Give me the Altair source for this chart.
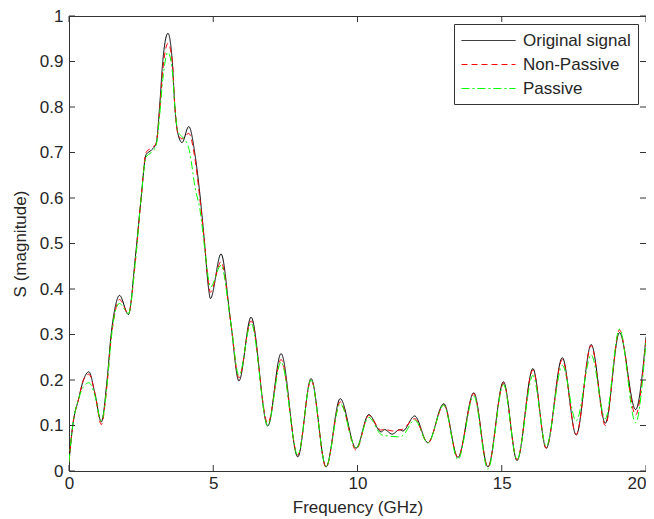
import altair as alt
import pandas as pd

freq = [0, 0.13, 0.34, 0.5, 0.69, 0.9, 1.12, 1.32, 1.46, 1.6, 1.75, 2.06, 2.3, 2.5, 2.67, 2.85,
        3.02, 3.14, 3.25, 3.43, 3.58, 3.67, 3.78, 3.92, 4.15, 4.38, 4.55, 4.7, 4.84, 4.9, 5.27,
        5.6, 5.89, 6.31, 6.89, 7.35, 7.93, 8.39, 8.91, 9.4, 9.95, 10.39, 10.82, 10.94, 11.2,
        11.46, 11.57, 11.98, 12.44, 12.99, 13.48, 14.03, 14.52, 15.06, 15.53, 16.08, 16.54,
        17.1, 17.58, 18.1, 18.59, 19.08, 19.64, 20]

original = [0.02, 0.10, 0.16, 0.20, 0.218, 0.17, 0.108, 0.20, 0.30, 0.36, 0.386, 0.344, 0.47, 0.60, 0.695, 0.705,
            0.72, 0.80, 0.90, 0.962, 0.90, 0.80, 0.74, 0.722, 0.757, 0.69, 0.60, 0.50, 0.40, 0.379, 0.477,
            0.33, 0.198, 0.338, 0.099, 0.258, 0.031, 0.203, 0.009, 0.159, 0.05, 0.124, 0.086, 0.091, 0.081,
            0.091, 0.088, 0.121, 0.062, 0.148, 0.030, 0.172, 0.009, 0.196, 0.023, 0.225, 0.05,
            0.249, 0.079, 0.278, 0.105, 0.304, 0.135, 0.295]

non_passive = [0.02, 0.10, 0.16, 0.20, 0.213, 0.17, 0.102, 0.19, 0.29, 0.35, 0.377, 0.346, 0.46, 0.60, 0.70, 0.71,
               0.72, 0.79, 0.88, 0.94, 0.90, 0.80, 0.74, 0.73, 0.742, 0.68, 0.59, 0.50, 0.41, 0.393, 0.46,
               0.33, 0.205, 0.33, 0.105, 0.245, 0.035, 0.20, 0.008, 0.152, 0.046, 0.122, 0.09, 0.092, 0.088,
               0.09, 0.092, 0.115, 0.062, 0.145, 0.03, 0.17, 0.008, 0.193, 0.025, 0.222, 0.05,
               0.245, 0.08, 0.276, 0.10, 0.31, 0.123, 0.29]

passive = [0.02, 0.10, 0.16, 0.185, 0.194, 0.165, 0.11, 0.19, 0.29, 0.35, 0.368, 0.346, 0.46, 0.60, 0.69, 0.70,
           0.715, 0.78, 0.86, 0.92, 0.88, 0.80, 0.745, 0.735, 0.71, 0.62, 0.57, 0.49, 0.42, 0.404, 0.452,
           0.33, 0.21, 0.325, 0.10, 0.24, 0.035, 0.20, 0.01, 0.148, 0.05, 0.118, 0.08, 0.078, 0.076,
           0.075, 0.078, 0.112, 0.062, 0.145, 0.025, 0.165, 0.004, 0.19, 0.025, 0.21, 0.055,
           0.232, 0.11, 0.255, 0.115, 0.312, 0.106, 0.285]

series_names = ["Original signal", "Non-Passive", "Passive"]
series_colors = ["#000000", "#ff0000", "#00ff00"]
series_dash = [[1, 0], [6, 4], [8, 3, 2, 3]]

x_ticks = [0, 5, 10, 15, 20]
y_ticks = [0, 0.1, 0.2, 0.3, 0.4, 0.5, 0.6, 0.7, 0.8, 0.9, 1]

rows = []
for name, vals in zip(series_names, [original, non_passive, passive]):
    for f, v in zip(freq, vals):
        rows.append({"freq": f, "S": v, "series": name})
df = pd.DataFrame(rows)

W, H = 577, 455
FONT = "Liberation Sans"
FS = 17
TXT = "#262626"

xs = alt.Scale(domain=[0, 20], nice=False, zero=False)
ys = alt.Scale(domain=[0, 1], nice=False, zero=False)

x_label_align = {"condition": {"test": "datum.value >= 20", "value": "right"}, "value": "center"}

lines = alt.Chart(df).mark_line(strokeWidth=1, interpolate="monotone", clip=True).encode(
    x=alt.X("freq:Q", scale=xs,
            axis=alt.Axis(values=x_ticks, ticks=False, domain=False, grid=False, labelFlush=False,
                          labelAlign=x_label_align,
                          labelFont=FONT, labelFontSize=FS, labelColor=TXT, labelPadding=4,
                          title="Frequency (GHz)", titleFont=FONT, titleFontSize=FS,
                          titleFontWeight="normal", titleColor=TXT, titlePadding=8)),
    y=alt.Y("S:Q", scale=ys,
            axis=alt.Axis(values=y_ticks, format="~g", ticks=False, domain=False, grid=False,
                          labelFont=FONT, labelFontSize=FS, labelColor=TXT, labelPadding=6,
                          title="S (magnitude)", titleFont=FONT, titleFontSize=FS,
                          titleFontWeight="normal", titleColor=TXT, titlePadding=10)),
    color=alt.Color("series:N", title=None,
                    scale=alt.Scale(domain=series_names, range=series_colors)),
    strokeDash=alt.StrokeDash("series:N", title=None,
                              scale=alt.Scale(domain=series_names, range=series_dash)),
)

xt = pd.DataFrame({"t": x_ticks})
yt = pd.DataFrame({"t": y_ticks})
tick_style = dict(color="#333333", strokeWidth=1)

xb = alt.Chart(xt).mark_rule(**tick_style).encode(
    x=alt.X("t:Q", scale=xs), y=alt.value(H), y2=alt.value(H - 6))
xtop = alt.Chart(xt).mark_rule(**tick_style).encode(
    x=alt.X("t:Q", scale=xs), y=alt.value(0), y2=alt.value(6))
yl = alt.Chart(yt).mark_rule(**tick_style).encode(
    y=alt.Y("t:Q", scale=ys), x=alt.value(0), x2=alt.value(6))
yr = alt.Chart(yt).mark_rule(**tick_style).encode(
    y=alt.Y("t:Q", scale=ys), x=alt.value(W), x2=alt.value(W - 6))

chart = alt.layer(lines, xb, xtop, yl, yr).properties(
    width=W, height=H,
    autosize=alt.AutoSizeParams(type="none"),
    padding={"left": 61, "top": 8, "right": 0, "bottom": 48},
    background="white",
).configure_view(stroke="#333333", strokeWidth=1).configure_legend(
    orient="top-right", offset=8, symbolType="M-1,0H5", symbolSize=324,
    symbolStrokeWidth=1, symbolStrokeColor="black",
    labelFont=FONT, labelFontSize=FS, labelColor=TXT,
    strokeColor="#333333", fillColor="white", padding=7, rowPadding=6,
    labelOffset=43, cornerRadius=0,
)

chart.save("out.html", embed_options={"renderer": "svg", "actions": False})
